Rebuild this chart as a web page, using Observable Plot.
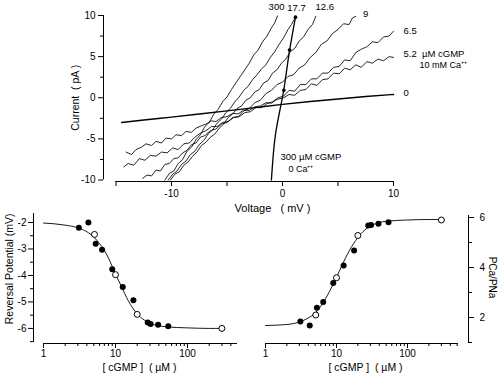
<!DOCTYPE html>
<html><head><meta charset="utf-8">
<script src="https://cdn.jsdelivr.net/npm/d3@7"></script>
<script src="https://cdn.jsdelivr.net/npm/@observablehq/plot@0.6"></script>
<style>
body{margin:0;background:#fff;}
#wrap{position:relative;width:500px;height:375px;overflow:hidden;background:#fff;}
#wrap svg{position:absolute;overflow:visible;}
</style></head><body><div id="wrap"></div>
<script>
// ---------- Top panel: I-V traces (V in mV, I in pA) ----------
const trace0 = [[-14.5,-3.0],[-12.5,-2.7],[-10,-2.35],[-7.5,-1.98],[-5,-1.6],[-2.5,-1.2],[0,-0.8],[2.5,-0.45],[5,-0.15],[7.5,0.15],[10,0.4]];
const trace0Ca = [[-1.0,-10],[-0.65,-4.6],[0.1,0.85],[0.63,5.7],[1.17,9.8]];
const dots0Ca = [[1.17,9.8],[0.63,5.8],[0.12,0.9]];
const trace52 = [[-14.1,-6.6],[-13.6,-6.9],[-13.2,-6.3],[-12.7,-6.0],[-12.3,-5.6],[-11.8,-5.8],[-11.4,-5.3],[-10.9,-5.5],[-10.5,-4.9],[-10.0,-5.0],[-9.6,-4.5],[-9.1,-4.6],[-8.7,-4.1],[-8.2,-4.2],[-7.8,-3.7],[-7.3,-3.4],[-6.9,-3.2],[-6.4,-2.8],[-6.0,-2.9],[-5.5,-2.4],[-5.0,-2.3],[-4.5,-1.9],[-4.0,-1.95],[-3.5,-1.5],[-3.0,-1.55],[-2.5,-1.1],[-2.0,-1.0],[-1.5,-0.6],[-1.0,-0.65],[-0.5,-0.2],[0.1,0.0],[0.6,0.4],[1.1,0.3],[1.6,0.9],[2.1,1.0],[2.6,1.7],[3.1,1.5],[3.6,2.2],[4.1,2.3],[4.6,3.0],[5.1,2.9],[5.6,3.6],[6.1,3.4],[6.6,4.0],[7.1,3.7],[7.6,4.4],[8.1,4.2],[8.6,4.7],[9.1,4.5],[9.6,5.0],[10.0,4.9]];
const trace65 = [[-14.3,-8.4],[-13.9,-8.0],[-13.4,-8.2],[-12.9,-7.4],[-12.4,-7.6],[-11.9,-7.0],[-11.4,-7.1],[-10.9,-6.6],[-10.4,-6.7],[-9.9,-6.1],[-9.4,-6.3],[-8.9,-5.6],[-8.4,-5.5],[-7.9,-4.8],[-7.4,-4.3],[-6.9,-4.0],[-6.4,-3.5],[-5.9,-3.5],[-5.4,-3.0],[-4.9,-2.9],[-4.4,-2.4],[-3.9,-2.3],[-3.4,-1.8],[-2.9,-1.7],[-2.4,-1.2],[-1.9,-1.2],[-1.4,-0.7],[-0.9,-0.5],[-0.4,0.0],[0.1,0.2],[0.6,0.9],[1.1,0.8],[1.6,1.6],[2.1,1.6],[2.6,2.3],[3.1,2.3],[3.6,3.0],[4.1,3.0],[4.6,3.7],[5.1,3.8],[5.6,4.6],[6.1,4.5],[6.6,5.5],[7.1,5.9],[7.6,6.2],[8.1,6.8],[8.6,6.7],[9.1,7.4],[9.6,7.5],[10.0,8.1]];
const trace9 = [[-12.6,-9.8],[-12.2,-9.4],[-11.8,-9.5],[-11.4,-8.8],[-11.0,-8.9],[-10.6,-8.1],[-10.2,-8.0],[-9.8,-7.4],[-9.4,-7.3],[-9.0,-6.7],[-8.6,-6.4],[-8.2,-5.7],[-7.8,-5.5],[-7.4,-4.8],[-7.0,-4.6],[-6.5,-4.0],[-6.0,-3.8],[-5.5,-3.2],[-5.0,-3.0],[-4.5,-2.4],[-4.0,-2.3],[-3.5,-1.6],[-3.0,-1.3],[-2.5,-0.6],[-2.0,-0.3],[-1.5,0.5],[-1.0,0.9],[-0.5,1.6],[0.0,1.9],[0.5,2.6],[1.0,2.8],[1.5,3.6],[2.0,4.0],[2.5,4.9],[3.0,5.5],[3.5,6.5],[4.0,6.9],[4.5,7.8],[5.0,8.3],[5.5,9.0],[6.0,8.9],[6.3,9.7],[6.6,9.9]];
const trace126 = [[-10.1,-10.0],[-9.7,-9.3],[-9.3,-9.0],[-8.9,-8.2],[-8.5,-7.8],[-8.1,-7.1],[-7.7,-6.6],[-7.3,-5.8],[-6.9,-5.4],[-6.5,-4.8],[-6.1,-4.4],[-5.7,-3.7],[-5.3,-3.2],[-4.9,-2.4],[-4.5,-2.0],[-4.1,-1.3],[-3.7,-1.0],[-3.3,-0.3],[-2.9,0.0],[-2.5,0.7],[-2.1,1.0],[-1.7,1.8],[-1.3,2.1],[-0.9,3.0],[-0.5,3.4],[-0.1,4.2],[0.3,4.7],[0.7,5.6],[1.1,6.0],[1.5,6.9],[1.9,7.4],[2.3,8.3],[2.7,8.9],[3.0,9.9]];
const trace177 = [[-10.3,-10.0],[-9.9,-9.3],[-9.5,-8.9],[-9.1,-8.1],[-8.7,-7.7],[-8.3,-6.9],[-7.9,-6.5],[-7.5,-5.7],[-7.1,-5.2],[-6.7,-4.4],[-6.3,-3.9],[-5.9,-3.1],[-5.5,-2.6],[-5.1,-1.8],[-4.7,-1.3],[-4.3,-0.5],[-3.9,0.1],[-3.5,0.9],[-3.1,1.4],[-2.7,2.2],[-2.3,2.8],[-1.9,3.5],[-1.5,4.0],[-1.1,4.9],[-0.7,5.6],[-0.3,6.5],[0.1,7.3],[0.5,8.3],[0.8,8.9],[1.17,9.8]];
const trace300 = [[-10.6,-10.0],[-10.2,-9.2],[-9.8,-8.9],[-9.4,-8.0],[-9.0,-7.5],[-8.6,-6.5],[-8.2,-6.0],[-7.8,-5.1],[-7.4,-4.5],[-7.0,-3.5],[-6.6,-3.0],[-6.2,-2.0],[-5.8,-1.4],[-5.4,-0.5],[-5.0,0.1],[-4.6,1.0],[-4.2,1.8],[-3.8,2.6],[-3.4,3.4],[-3.0,4.2],[-2.6,5.2],[-2.2,5.8],[-1.8,6.8],[-1.4,7.5],[-1.0,8.5],[-0.7,9.1],[-0.45,9.95]];
const curveLabels = ["300","17.7","12.6","9","6.5","5.2  µM cGMP","0"];
const noteLabels = ["10 mM Ca⁺⁺","300 µM cGMP","0 Ca⁺⁺"];
const voltTicks = [-15,-10,-5,0,5,10];
const voltLabeled = [-10,0,10];
const currTicks = [-10,-5,0,5,10];
const currMinor = [-7.5,-2.5,2.5,7.5];

// ---------- Bottom panels: dose-response ----------
const filledConc = [3.1,4.2,5.3,6.5,9.0,12.6,17.7,28,30.7,39,54];
const filledErev = [-2.2,-2.0,-2.8,-3.03,-3.77,-4.44,-4.94,-5.78,-5.83,-5.86,-5.92];
const filledRatio = [1.84,1.68,2.39,2.62,3.38,4.08,4.68,5.68,5.70,5.75,5.81];
const openConc = [5.1,10,20,300];
const openErev = [-2.45,-3.97,-5.47,-6.0];
const openRatio = [2.1,3.59,5.28,5.9];
const fitConc = [1,2,3,4,5,6,7,8,10,12,15,20,25,30,40,50,100,200,300];
const fitErev = [-2.02,-2.1,-2.2,-2.35,-2.55,-2.8,-3.05,-3.35,-3.95,-4.4,-4.95,-5.45,-5.68,-5.8,-5.9,-5.94,-5.98,-6.0,-6.0];
const fitRatio = [1.68,1.72,1.82,1.98,2.18,2.45,2.75,3.05,3.6,4.1,4.65,5.2,5.5,5.65,5.8,5.85,5.9,5.92,5.92];
const concMajor = [1,10,100];
const concMinorL = [2,3,4,5,6,7,8,9,20,30,40,50,60,70,80,90,200,300,400];
const concMinorR = [2,3,4,5,6,7,8,9,20,30,40,50,60,70,80,90,200,300,400,500];
const erevTicks = [-2,-3,-4,-5,-6];
const erevMinor = [-2.5,-3.5,-4.5,-5.5,-6.5];
const ratioTicks = [2,4,6];
const ratioMinor = [1,3,5];

const FONT = "'Liberation Sans', Arial, Helvetica, sans-serif";
const baseStyle = {background: "transparent", fontFamily: FONT, fontSize: "10px", color: "black"};
const P = d => d[0], Q = d => d[1];
const blank = () => "";
const num = d => String(d);
const last = a => [a[a.length - 1]];

const wrap = document.getElementById("wrap");

// ---------- Top ----------
const X0 = -16.13, YB = -10.18;
const topPlot = Plot.plot({
  width: 500, height: 215,
  marginLeft: 103, marginRight: 107, marginTop: 15, marginBottom: 34,
  x: {domain: [X0, 10]}, y: {domain: [YB, 10]},
  style: baseStyle,
  marks: [
    Plot.ruleX([X0], {y1: -10, y2: 10, strokeWidth: 1}),
    Plot.ruleY([YB], {x1: -15, x2: 10, strokeWidth: 1}),
    Plot.axisY({ticks: currTicks, tickSize: 5, tickPadding: 3, tickFormat: num, label: null, fontSize: 10}),
    Plot.axisY({ticks: currMinor, tickSize: 3, tickFormat: blank, label: null}),
    Plot.axisX({ticks: voltTicks, tickSize: 5, tickPadding: 3, tickFormat: d => voltLabeled.includes(d) ? String(d) : "", label: null, fontSize: 10}),
    Plot.line(trace0, {x: P, y: Q, stroke: "black", strokeWidth: 1.4, curve: "monotone-x"}),
    Plot.line(trace0Ca, {x: P, y: Q, stroke: "black", strokeWidth: 1.3, curve: "catmull-rom"}),
    Plot.dot(dots0Ca, {x: P, y: Q, r: 1.8, fill: "black"}),
    ...[trace52, trace65, trace9, trace126, trace177, trace300].map(t =>
      Plot.line(t, {x: P, y: Q, stroke: "black", strokeWidth: 0.85})),
    Plot.text(last(trace300), {x: P, y: Q, text: () => curveLabels[0], dx: -1, dy: -9, fontSize: 9.5}),
    Plot.text(last(trace177), {x: P, y: Q, text: () => curveLabels[1], dx: 1, dy: -9, fontSize: 9.5}),
    Plot.text(last(trace126), {x: P, y: Q, text: () => curveLabels[2], dx: 9, dy: -9, fontSize: 9.5}),
    Plot.text(last(trace9), {x: P, y: Q, text: () => curveLabels[3], dx: 10, dy: -2, fontSize: 9.5}),
    Plot.text(last(trace65), {x: P, y: Q, text: () => curveLabels[4], dx: 10, dy: 0, textAnchor: "start", fontSize: 9.5}),
    Plot.text(last(trace52), {x: P, y: Q, text: () => curveLabels[5], dx: 10, dy: -3, textAnchor: "start", fontSize: 9.5}),
    Plot.text(last(trace52), {x: P, y: Q, text: () => noteLabels[0], dx: 26, dy: 8, textAnchor: "start", fontSize: 9}),
    Plot.text(last(trace0), {x: P, y: Q, text: () => curveLabels[6], dx: 10, dy: -2, textAnchor: "start", fontSize: 9.5}),
    Plot.text(trace0Ca.slice(0, 1), {x: P, y: Q, text: () => noteLabels[1], dx: 9, dy: -23, textAnchor: "start", fontSize: 9.5}),
    Plot.text(trace0Ca.slice(0, 1), {x: P, y: Q, text: () => noteLabels[2], dx: 17, dy: -11, textAnchor: "start", fontSize: 9}),
    Plot.text(["Current  ( pA )"], {x: X0, y: 0, dx: -28, rotate: -90, fontSize: 10.5}),
    Plot.text(["Voltage   ( mV )"], {x: -0.9, y: YB, dy: 27, fontSize: 11})
  ]
});
topPlot.style.left = "0px"; topPlot.style.top = "0px";
wrap.appendChild(topPlot);

// ---------- Bottom left ----------
const L0 = 0.726, LB = -6.57;
const leftPlot = Plot.plot({
  width: 250, height: 175,
  marginLeft: 33, marginRight: 13, marginTop: 13, marginBottom: 32,
  x: {type: "log", domain: [L0, 494]}, y: {domain: [LB, -1.66]},
  style: baseStyle,
  marks: [
    Plot.ruleX([L0], {y1: -6.53, y2: -1.66}),
    Plot.ruleY([LB], {x1: 1, x2: 494}),
    Plot.axisY({ticks: erevTicks, tickSize: 5, tickPadding: 2, tickFormat: num, label: null, fontSize: 10}),
    Plot.axisY({ticks: erevMinor, tickSize: 3, tickFormat: blank, label: null}),
    Plot.axisX({ticks: concMajor, tickSize: 5, tickPadding: 1, tickFormat: num, label: null, fontSize: 10}),
    Plot.axisX({ticks: concMinorL, tickSize: 3, tickFormat: blank, label: null}),
    Plot.line(fitConc, {x: d => d, y: (d, i) => fitErev[i], stroke: "black", strokeWidth: 0.9, curve: "monotone-x"}),
    Plot.dot(filledConc, {x: d => d, y: (d, i) => filledErev[i], r: 3, fill: "black"}),
    Plot.dot(openConc, {x: d => d, y: (d, i) => openErev[i], r: 3, fill: "white", stroke: "black", strokeWidth: 1}),
    Plot.text(["Reversal Potential (mV)"], {x: L0, y: -3.75, dx: -24, rotate: -90, fontSize: 10.5}),
    Plot.text(["[ cGMP ]  ( µM )"], {x: 21.5, y: LB, dy: 24.5, fontSize: 10.5})
  ]
});
leftPlot.style.left = "0px"; leftPlot.style.top = "200px";
wrap.appendChild(leftPlot);

// ---------- Bottom right ----------
const R1 = 723, RB = 0.96;
const rightPlot = Plot.plot({
  width: 250, height: 175,
  marginLeft: 15, marginRight: 32, marginTop: 15, marginBottom: 32,
  x: {type: "log", domain: [1, R1]}, y: {domain: [RB, 6.08]},
  style: baseStyle,
  marks: [
    Plot.ruleX([R1], {y1: RB, y2: 6.08}),
    Plot.ruleY([RB], {x1: 1, x2: 523}),
    Plot.axisY({anchor: "right", ticks: ratioTicks, tickSize: 5, tickPadding: 6, tickFormat: num, label: null, fontSize: 10}),
    Plot.axisY({anchor: "right", ticks: ratioMinor, tickSize: 3, tickFormat: blank, label: null}),
    Plot.axisX({ticks: concMajor, tickSize: 5, tickPadding: 1, tickFormat: num, label: null, fontSize: 10}),
    Plot.axisX({ticks: concMinorR, tickSize: 3, tickFormat: blank, label: null}),
    Plot.line(fitConc, {x: d => d, y: (d, i) => fitRatio[i], stroke: "black", strokeWidth: 0.9, curve: "monotone-x"}),
    Plot.dot(filledConc, {x: d => d, y: (d, i) => filledRatio[i], r: 3, fill: "black"}),
    Plot.dot(openConc, {x: d => d, y: (d, i) => openRatio[i], r: 3, fill: "white", stroke: "black", strokeWidth: 1}),
    Plot.text(["PCa/PNa"], {x: R1, y: 3.6, dx: 24, rotate: 90, fontSize: 10}),
    Plot.text(["[ cGMP ]  ( µM )"], {x: 25.6, y: RB, dy: 24.5, fontSize: 10.5})
  ]
});
rightPlot.style.left = "250px"; rightPlot.style.top = "200px";
wrap.appendChild(rightPlot);
</script>
</body></html>
